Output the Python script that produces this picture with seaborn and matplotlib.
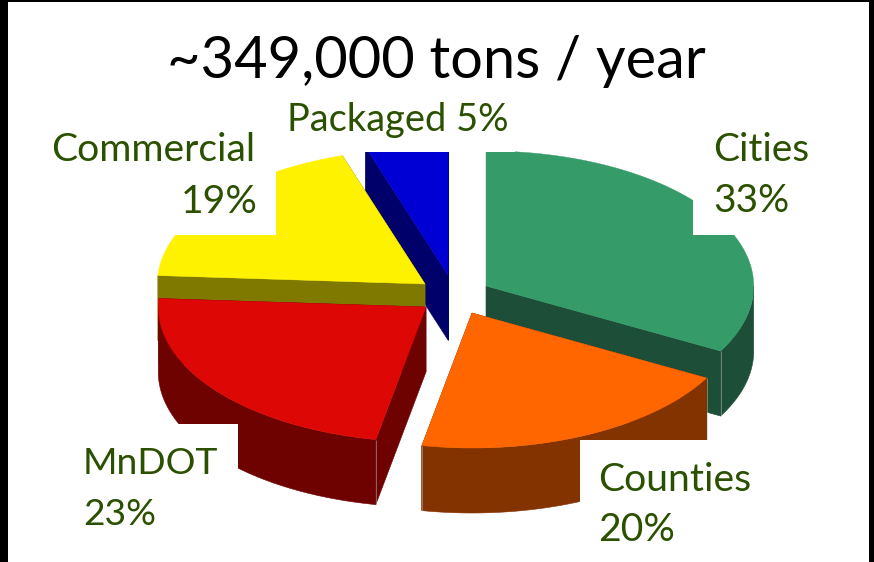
import numpy as np
import matplotlib
matplotlib.use("Agg")
import matplotlib.pyplot as plt
from matplotlib.patches import Polygon, Rectangle
import seaborn as sns

# Salt use by sector, percent of the yearly total (clockwise from 12 o'clock)
sectors = ["Cities", "Counties", "MnDOT", "Commercial", "Packaged"]
shares = [33, 20, 23, 19, 5]
title_text = "~349,000 tons / year"

# Exploded pie geometry, in pixels
centers = [(486, 286), (472, 313), (426, 307), (425, 284), (448, 275)]
radius_x, radius_y = 267.7, 135
depth = 65
top_colors = ["#359C69", "#FF6600", "#DD0806", "#FFF200", "#0000D4"]
side_colors = ["#1C4E38", "#833300", "#6E0200", "#807900", "#00006A"]
draw_order = [4, 3, 0, 2, 1]

# Label placement: text lines, anchor x per line, baselines, alignment, font size
labels = {
    "Cities": ([713, 713], [161, 212], "left", ["Cities", "33%"], 28),
    "Counties": ([598, 598], [491, 541], "left", ["Counties", "20%"], 28.2),
    "MnDOT": ([83, 83], [474, 525], "left", ["MnDOT", "23%"], 26.8),
    "Commercial": ([255, 258], [161, 213], "right", ["Commercial", "19%"], 28.2),
    "Packaged": ([287, 287], [131], "left", ["Packaged 5%"], 27.4),
}
# Opaque label backgrounds: x0, y0, x1, y1
label_boxes = [
    (693, 110, 800, 235),
    (580, 440, 770, 555),
    (60, 424, 238, 550),
    (40, 110, 276, 235),
    (280, 100, 515, 152),
]

sns.set_theme(style="white")
plt.rcParams["font.family"] = ["Lato", "DejaVu Sans"]
sns.set_palette(top_colors)

fig = plt.figure(figsize=(8.74, 5.62), dpi=100, facecolor="white")
ax = fig.add_axes([0, 0, 1, 1])
ax.set_xlim(0, 874)
ax.set_ylim(562, 0)
ax.axis("off")

edges = np.cumsum([0] + shares) / sum(shares) * 2 * np.pi


def rim(center, a0, a1):
    """Points along the elliptical rim between two clockwise angles."""
    t = np.linspace(a0, a1, 160)
    return np.column_stack([center[0] + radius_x * np.sin(t),
                            center[1] - radius_y * np.cos(t)])


for i in draw_order:
    c = np.array(centers[i], dtype=float)
    arc = rim(c, edges[i], edges[i + 1])
    drop = np.array([0, depth])
    side = side_colors[i]
    # Extruded faces: both radial cuts, then the part of the rim facing the viewer
    faces = [
        np.vstack([c, arc[0], arc[0] + drop, c + drop]),
        np.vstack([c, arc[-1], arc[-1] + drop, c + drop]),
    ]
    front0, front1 = max(edges[i], np.pi / 2), min(edges[i + 1], 3 * np.pi / 2)
    if front0 < front1:
        front = rim(c, front0, front1)
        faces.append(np.vstack([front, (front + drop)[::-1]]))
    for face in faces:
        ax.add_patch(Polygon(face, closed=True, fc=side, ec=side, lw=0.4))
    # Pale hairline on the front corner of the slab
    for p in (arc[0], arc[-1]):
        if p[1] > c[1] + 40:
            ax.plot([p[0], p[0]], [p[1], p[1] + depth], color="#B8B8B8",
                    lw=0.6, alpha=0.6, solid_capstyle="butt")
    ax.add_patch(Polygon(np.vstack([c, arc]), closed=True,
                         fc=top_colors[i], ec=top_colors[i], lw=0.3))

for x0, y0, x1, y1 in label_boxes:
    ax.add_patch(Rectangle((x0, y0), x1 - x0, y1 - y0, fc="white", ec="none", zorder=5))

for name in sectors:
    xs, baselines, ha, lines, size = labels[name]
    for x, line, y in zip(xs, lines, baselines):
        ax.text(x, y, line, ha=ha, va="baseline", color="#2B5000",
                fontsize=size, zorder=6)

ax.text(436, 78, title_text, ha="center", va="baseline", color="black",
        fontsize=41.6, zorder=6)

# Black frame slivers along the top and sides
for x0, x1 in [(0, 8), (869, 874)]:
    ax.add_patch(Rectangle((x0, 0), x1 - x0, 562, fc="black", ec="none", zorder=7))
ax.add_patch(Rectangle((0, 0), 874, 2, fc="black", ec="none", zorder=7))

fig.savefig("out.png", dpi=100)
